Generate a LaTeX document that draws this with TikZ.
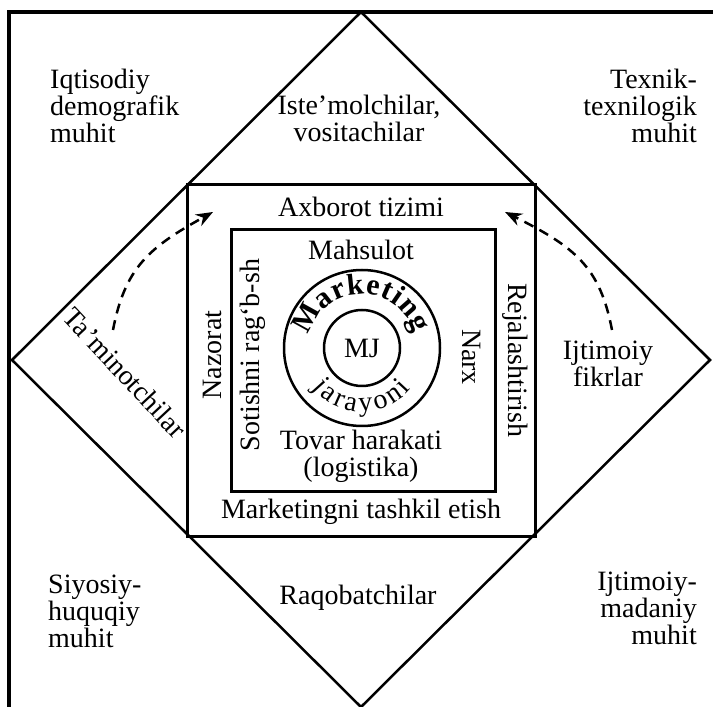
\documentclass[tikz,border=0pt]{standalone}
\usepackage{fontspec}
\setmainfont{Liberation Serif}
\usetikzlibrary{positioning, arrows.meta, calc}

\begin{document}
\begin{tikzpicture}[
    x=1pt, y=1pt,
    every node/.style={font=\fontsize{28}{27}\selectfont, inner sep=0pt},
    frameline/.style={line width=3.5pt, draw=black},
    boxline/.style={line width=3pt, draw=black},
    thinline/.style={line width=2.5pt, draw=black},
    flowarrow/.style={line width=2.5pt, dash pattern=on 10pt off 7pt, -{Stealth[length=17pt, width=13pt]}},
    arcletter/.style={font=\fontsize{30}{30}\selectfont\bfseries, anchor=base},
    arcplain/.style={anchor=base},
    cornertext/.style={align=left}
]
\useasboundingbox (0,0) rectangle (713,707);
\fill[white] (0,0) rectangle (713,707);

% Outer frame (cut off at right and bottom)
\draw[frameline] (713,695) -- (9,695) -- (9,0);

% Diamond
\draw[thinline, line join=miter] (361,695) -- (710,347) -- (361,0) -- (12,347) -- cycle;

% Corner texts
\node[cornertext, anchor=west] (iqt) at (50,601) {Iqtisodiy\\demografik\\muhit};
\node[align=right, anchor=east] (tex) at (697,601) {Texnik-\\texnilogik\\muhit};
\node[cornertext, anchor=west] (siy) at (48,96) {Siyosiy-\\huquqiy\\muhit};
\node[align=right, anchor=east] (ijm) at (697,99) {Ijtimoiy-\\madaniy\\muhit};

% Texts inside the diamond
\node[align=center] (ist) at (359,589) {Iste’molchilar,\\vositachilar};
\node (raq) at (358,109) {Raqobatchilar};
\node[rotate=-47] (tam) at (125,334) {Ta’minotchilar};
\node[align=center] (ijf) at (608,343) {Ijtimoiy\\fikrlar};

% Middle square
\draw[boxline] (187,170) rectangle (535,522);
\node (axb) at (361,500) {Axborot tizimi};
\node (mtk) at (361,195) {Marketingni tashkil etish};
\node[rotate=90] (naz) at (212,352) {Nazorat};
\node[rotate=-90] (rej) at (515,347) {Rejalashtirish};

% Inner square
\draw[boxline] (231,215) rectangle (495,477);
\node (mah) at (361,457) {Mahsulot};
\node[align=center] (tov) at (361,251) {Tovar harakati\\(logistika)};
\node[rotate=90] (sot) at (253,352) {Sotishni rag‘b-sh};
\node[rotate=-90] (nar) at (472,350) {Narx};

% Circles
\node[circle, draw, thinline, minimum size=156pt] (ring) at (362,359) {};
\node[circle, draw, thinline, minimum size=76pt] (mj) at (362,359) {MJ};

% Arc letters
\foreach \ch/\ang in {M/151, a/128.3, r/112.6, k/96.2, e/79.7, t/66.4, i/55.4, n/41.3, g/24.1} {
    \node[arcletter, rotate=\ang-90] (top-\ang) at ($(mj.center)+(\ang:54)$) {\ch};
}
\foreach \ch/\ang in {j/-138, a/-126.3, r/-113.9, a/-101.4, y/-86.6, o/-71, n/-55.5, i/-43} {
    \node[arcplain, rotate=\ang+90] (bot-\ang) at ($(mj.center)+(\ang:63.5)$) {\ch};
}

% Dashed arrows
\coordinate (lfrom) at (113,377);
\coordinate (lto) at (213,495);
\coordinate (rfrom) at (612,377);
\coordinate (rto) at (505,495);
\draw[flowarrow] (lfrom) .. controls (125,440) and (150,460) .. (lto);
\draw[flowarrow] (rfrom) .. controls (600,440) and (575,460) .. (rto);

\end{tikzpicture}
\end{document}
